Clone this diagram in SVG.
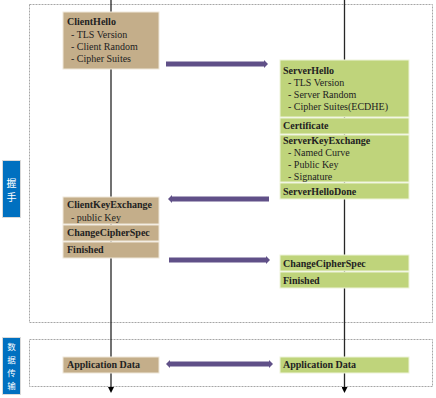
<svg xmlns="http://www.w3.org/2000/svg" width="436" height="398" viewBox="0 0 436 398">
<defs>
<style>
.frame{fill:none;stroke:#A6A6A6;stroke-width:1;stroke-dasharray:2,1}
.life{stroke:#262626;stroke-width:1.3;fill:none}
.tan{fill:#C4AE8A;stroke:#EFE8DA;stroke-width:1}
.green{fill:#BFD47B;stroke:#EEF4DA;stroke-width:1}
.t{font-family:"Liberation Serif","Times New Roman",serif;font-size:10px;fill:#222222}
.b{font-weight:bold}
.msg{fill:#605088}
.side{fill:#0070C0;stroke:#D9D9D9;stroke-width:1}
.cn{font-family:"Noto Sans CJK SC",sans-serif;font-size:8.5px;fill:#FFFFFF;text-anchor:middle}
.cnl{font-size:10px}
</style>
<marker id="ah" markerWidth="6" markerHeight="6" refX="3" refY="3" orient="auto" markerUnits="userSpaceOnUse"><path d="M0,0 L6,3 L0,6 Z" fill="#000"/></marker>
</defs>
<rect x="0" y="0" width="436" height="398" fill="#FFFFFF"/>
<g id="frames">
<rect class="frame" x="29.5" y="4.5" width="403" height="318"/>
<rect class="frame" x="29.5" y="339.5" width="403" height="47"/>
</g>
<g id="side-labels">
<g id="handshake-label">
<rect class="side" x="2.5" y="160.5" width="18" height="57"/>
<text class="cn cnl" x="11.5" y="187">握</text>
<text class="cn cnl" x="11.5" y="201">手</text>
</g>
<g id="data-label">
<rect class="side" x="2.5" y="337.5" width="18" height="57"/>
<text class="cn" x="11.5" y="350">数</text>
<text class="cn" x="11.5" y="363">据</text>
<text class="cn" x="11.5" y="376">传</text>
<text class="cn" x="11.5" y="389">输</text>
</g>
</g>
<g id="lifelines">
<line class="life" x1="111" y1="0" x2="111" y2="390" marker-end="url(#ah)"/>
<line class="life" x1="344.5" y1="0" x2="344.5" y2="390" marker-end="url(#ah)"/>
</g>
<g id="client-hello">
<rect class="tan" x="63" y="12" width="96" height="57"/>
<text class="t b" x="67" y="25">ClientHello</text>
<text class="t" x="71" y="38">- TLS Version</text>
<text class="t" x="71" y="50">- Client Random</text>
<text class="t" x="71" y="62">- Cipher Suites</text>
</g>
<g id="server-hello">
<rect class="green" x="280" y="60" width="129" height="57"/>
<text class="t b" x="283" y="74">ServerHello</text>
<text class="t" x="288" y="86">- TLS Version</text>
<text class="t" x="288" y="98">- Server Random</text>
<text class="t" x="288" y="110">- Cipher Suites(ECDHE)</text>
</g>
<g id="certificate">
<rect class="green" x="280" y="118" width="129" height="16"/>
<text class="t b" x="283" y="129">Certificate</text>
</g>
<g id="server-key-exchange">
<rect class="green" x="280" y="135" width="129" height="47"/>
<text class="t b" x="283" y="144">ServerKeyExchange</text>
<text class="t" x="288" y="156">- Named Curve</text>
<text class="t" x="288" y="168">- Public Key</text>
<text class="t" x="288" y="180">- Signature</text>
</g>
<g id="server-hello-done">
<rect class="green" x="280" y="183" width="129" height="16"/>
<text class="t b" x="283" y="195">ServerHelloDone</text>
</g>
<g id="client-key-exchange">
<rect class="tan" x="63" y="197" width="96" height="27"/>
<text class="t b" x="67" y="208">ClientKeyExchange</text>
<text class="t" x="71" y="221">- public Key</text>
</g>
<g id="client-change-cipher-spec">
<rect class="tan" x="63" y="225" width="96" height="16"/>
<text class="t b" x="67" y="236">ChangeCipherSpec</text>
</g>
<g id="client-finished">
<rect class="tan" x="63" y="242" width="96" height="16"/>
<text class="t b" x="67" y="253">Finished</text>
</g>
<g id="server-change-cipher-spec">
<rect class="green" x="280" y="255" width="129" height="16"/>
<text class="t b" x="283" y="267">ChangeCipherSpec</text>
</g>
<g id="server-finished">
<rect class="green" x="280" y="272" width="129" height="16"/>
<text class="t b" x="283" y="284">Finished</text>
</g>
<g id="client-app-data">
<rect class="tan" x="63" y="357" width="96" height="16"/>
<text class="t b" x="67" y="368">Application Data</text>
</g>
<g id="server-app-data">
<rect class="green" x="280" y="357" width="129" height="16"/>
<text class="t b" x="283" y="368">Application Data</text>
</g>
<g id="connectors">
<path class="msg" d="M166,61.5 L264,61.5 L264,60 L268,64 L264,68 L264,66.5 L166,66.5 Z"/>
<path class="msg" d="M269,196.5 L172,196.5 L172,195 L168,199 L172,203 L172,201.5 L269,201.5 Z"/>
<path class="msg" d="M169,257.5 L266,257.5 L266,256 L270,260 L266,264 L266,262.5 L169,262.5 Z"/>
<path class="msg" d="M170,361.5 L269,361.5 L269,360 L273,364 L269,368 L269,366.5 L170,366.5 L170,368 L166,364 L170,360 Z"/>
</g>
</svg>
